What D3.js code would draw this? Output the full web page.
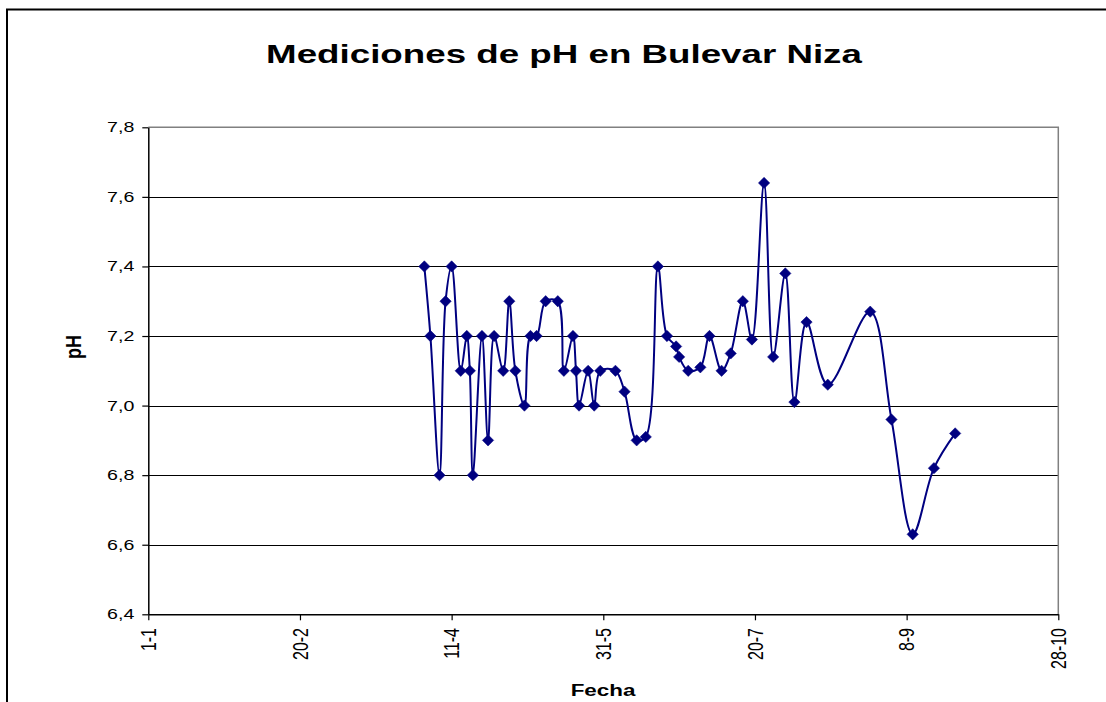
<!DOCTYPE html>
<html>
<head>
<meta charset="utf-8">
<script src="https://cdn.jsdelivr.net/npm/d3@7"></script>
<style>
  html, body { margin: 0; padding: 0; background: #fff; }
  svg { display: block; }
  text { font-family: "Liberation Sans", Arial, sans-serif; fill: #000; }
</style>
</head>
<body>
<div id="chart"></div>
<script>
// ---- data ----
const title = "Mediciones de pH en Bulevar Niza";
const xTitle = "Fecha";
const yTitle = "pH";

const dates = [
  "2007-04-02","2007-04-04","2007-04-07","2007-04-09","2007-04-11","2007-04-14",
  "2007-04-16","2007-04-17","2007-04-18","2007-04-21","2007-04-23","2007-04-25",
  "2007-04-28","2007-04-30","2007-05-02","2007-05-05","2007-05-07","2007-05-09",
  "2007-05-12","2007-05-16","2007-05-18","2007-05-21","2007-05-22","2007-05-23",
  "2007-05-26","2007-05-28","2007-05-30","2007-06-04","2007-06-07","2007-06-11",
  "2007-06-14","2007-06-18","2007-06-21","2007-06-24","2007-06-25","2007-06-28",
  "2007-07-02","2007-07-05","2007-07-09","2007-07-12","2007-07-16","2007-07-19",
  "2007-07-23","2007-07-26","2007-07-30","2007-08-02","2007-08-06","2007-08-13",
  "2007-08-27","2007-09-03","2007-09-10","2007-09-17","2007-09-24"
];
const phValues = [
  7.40, 7.20, 6.80, 7.30, 7.40, 7.10,
  7.20, 7.10, 6.80, 7.20, 6.90, 7.20,
  7.10, 7.30, 7.10, 7.00, 7.20, 7.20,
  7.30, 7.30, 7.10, 7.20, 7.10, 7.00,
  7.10, 7.00, 7.10, 7.10, 7.04, 6.90,
  6.91, 7.40, 7.20, 7.17, 7.14, 7.10,
  7.11, 7.20, 7.10, 7.15, 7.30, 7.19,
  7.64, 7.14, 7.38, 7.01, 7.24, 7.06,
  7.27, 6.96, 6.63, 6.82, 6.92
];
const xTickDates = ["2007-01-01","2007-02-20","2007-04-11","2007-05-31","2007-07-20","2007-09-08","2007-10-28"];
const xTickLabels = ["1-1","20-2","11-4","31-5","20-7","8-9","28-10"];
const yTicks = [6.4, 6.6, 6.8, 7.0, 7.2, 7.4, 7.6, 7.8];
const yTickLabels = ["6,4","6,6","6,8","7,0","7,2","7,4","7,6","7,8"];

// ---- layout ----
const W = 1106, H = 702;
const plot = { left: 148.3, right: 1058.3, top: 127.3, bottom: 614.3 };
const SX = 1.4; // horizontal stretch of text as in the reference

const parse = d3.timeParse("%Y-%m-%d");
const data = dates.map((d, i) => ({ date: parse(d), v: phValues[i] }));

const x = d3.scaleTime()
  .domain([parse(xTickDates[0]), parse(xTickDates[xTickDates.length - 1])])
  .range([plot.left, plot.right]);
const y = d3.scaleLinear()
  .domain([yTicks[0], yTicks[yTicks.length - 1]])
  .range([plot.bottom, plot.top]);

const svg = d3.select("#chart").append("svg")
  .attr("width", W).attr("height", H);

svg.append("rect").attr("width", W).attr("height", H).attr("fill", "#fff");

// outer chart frame (left and top visible)
svg.append("path")
  .attr("d", `M7,${H}V9.5H${W}`)
  .attr("fill", "none").attr("stroke", "#000").attr("stroke-width", 2);

// title
svg.append("text")
  .attr("transform", `translate(564,62.5) scale(${1.386},1)`)
  .attr("text-anchor", "middle")
  .attr("font-size", 26.5).attr("font-weight", "bold")
  .text(title);

// gridlines
svg.append("g").selectAll("line")
  .data(yTicks.filter(t => t > yTicks[0] && t < yTicks[yTicks.length - 1]))
  .join("line")
  .attr("x1", plot.left).attr("x2", plot.right)
  .attr("y1", d => Math.round(y(d)) + 0.5).attr("y2", d => Math.round(y(d)) + 0.5)
  .attr("stroke", "#000").attr("stroke-width", 1.2);

// plot area border top/right (gray)
svg.append("path")
  .attr("d", `M${plot.left},${plot.top}H${plot.right}V${plot.bottom}`)
  .attr("fill", "none").attr("stroke", "#808080").attr("stroke-width", 1.5);

// y axis
const yAxis = d3.axisLeft(y).tickValues(yTicks).tickSize(6).tickSizeOuter(0).tickFormat("");
const gy = svg.append("g").attr("transform", `translate(${plot.left},0)`).call(yAxis);
gy.select(".domain").attr("stroke", "#000").attr("stroke-width", 1.5);
gy.selectAll(".tick line").attr("stroke", "#000").attr("stroke-width", 1.2);

svg.append("g").selectAll("text")
  .data(yTicks)
  .join("text")
  .attr("transform", d => `translate(134.3,${y(d) + 5}) scale(${SX},1)`)
  .attr("text-anchor", "end")
  .attr("font-size", 14)
  .text((d, i) => yTickLabels[i]);

// x axis
const xTickVals = xTickDates.map(parse);
const xAxis = d3.axisBottom(x).tickValues(xTickVals).tickSize(6).tickSizeOuter(0).tickFormat("");
const gx = svg.append("g").attr("transform", `translate(0,${plot.bottom})`).call(xAxis);
gx.select(".domain").attr("stroke", "#000").attr("stroke-width", 1.5);
gx.selectAll(".tick line").attr("stroke", "#000").attr("stroke-width", 1.2);

svg.append("g").selectAll("text")
  .data(xTickVals)
  .join("text")
  .attr("transform", d => `translate(${x(d)},628) scale(${SX},1) rotate(-90)`)
  .attr("text-anchor", "end")
  .attr("dy", "0.35em")
  .attr("font-size", 16)
  .text((d, i) => xTickLabels[i]);

// axis titles
svg.append("text")
  .attr("transform", `translate(603,696) scale(${SX},1)`)
  .attr("text-anchor", "middle")
  .attr("font-size", 16).attr("font-weight", "bold")
  .text(xTitle);

svg.append("text")
  .attr("transform", `translate(73,347) scale(1.2,1) rotate(-90)`)
  .attr("text-anchor", "middle")
  .attr("dy", "0.35em")
  .attr("font-size", 18).attr("font-weight", "bold")
  .text(yTitle);

// series line
const line = d3.line()
  .x(d => x(d.date))
  .y(d => y(d.v))
  .curve(d3.curveCatmullRom.alpha(0.5));

svg.append("path")
  .datum(data)
  .attr("d", line)
  .attr("fill", "none")
  .attr("stroke", "#000080")
  .attr("stroke-width", 2);

// markers (diamonds)
svg.append("g").selectAll("path")
  .data(data)
  .join("path")
  .attr("d", d3.symbol().type(d3.symbolSquare).size(64))
  .attr("transform", d => `translate(${x(d.date)},${y(d.v)}) rotate(45)`)
  .attr("fill", "#000080")
  .attr("stroke", "#000080")
  .attr("stroke-width", 0.5);
</script>
</body>
</html>
